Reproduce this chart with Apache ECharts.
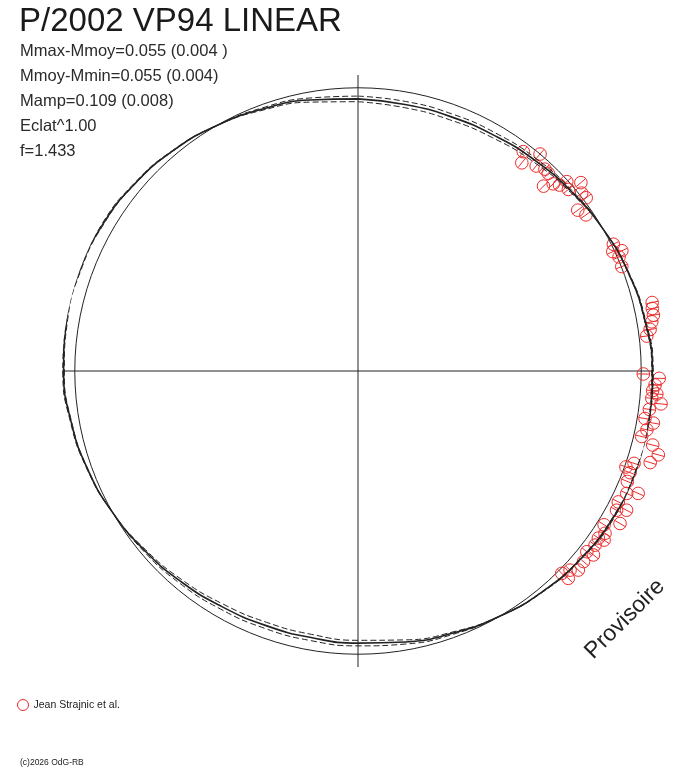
<!DOCTYPE html>
<html>
<head>
<meta charset="utf-8">
<title>P/2002 VP94 LINEAR</title>
<script src="https://cdn.jsdelivr.net/npm/echarts@6.0.0/dist/echarts.min.js"></script>
<style>
    html, body { margin: 0; padding: 0; background: #fff; }
    #chart { width: 688px; height: 768px; }
</style>
</head>
<body>
<div id="chart"></div>
<script>
// rotational phase as an angle (deg, clockwise from the top)
// and brightness Mmoy - m (mag), outward = brighter
var obsAngle = [37.0, 40.0, 38.2, 41.0, 42.8, 43.9, 45.1, 46.2, 47.3, 47.8, 49.2, 49.8, 51.5, 52.8, 53.8, 55.6,
    63.6, 64.9, 65.5, 66.4, 68.4,
    76.9, 78.0, 79.3, 80.5, 81.9, 83.1,
    90.6, 91.4, 92.7, 93.8, 94.4, 95.3, 96.2, 97.5, 99.4, 100.0, 101.5, 103.0, 104.1, 105.6, 107.4, 108.5, 109.7, 110.5,
    112.3, 113.6, 114.5, 116.7, 117.4, 118.3, 120.2, 122.0, 123.3, 124.8, 124.5, 126.3, 128.3, 128.0, 130.2, 132.1, 133.2, 134.8, 134.6];
var obsDelta = [-0.037, 0.000, -0.079, -0.050, -0.035, -0.038, -0.092, -0.055, -0.039, -0.006, -0.023, 0.037, 0.011, 0.014, -0.047, -0.030,
    0.008, -0.008, 0.029, 0.007, 0.002,
    0.081, 0.076, 0.075, 0.063, 0.051, 0.033,
    0.009, 0.078, 0.061, 0.052, 0.071, 0.051, 0.093, 0.046, 0.033, 0.072, 0.050, 0.034, 0.089, 0.123, 0.099, 0.034, 0.006, 0.031,
    0.034, 0.097, 0.052, 0.035, 0.083, 0.045, 0.086, 0.030, 0.053, 0.041, 0.066, 0.047, 0.036, 0.067, 0.052, 0.059, 0.033, 0.017, 0.052];
var obsErr = 0.026;

// fitted light curves (mag), sampled every 10 deg
var fitAngle = [0, 10, 20, 30, 40, 50, 60, 70, 80, 90, 100, 110, 120, 130, 140, 150, 160, 170, 180,
    190, 200, 210, 220, 230, 240, 250, 260, 270, 280, 290, 300, 310, 320, 330, 340, 350, 360];
var fitMain = [-0.048, -0.054, -0.054, -0.048, -0.035, -0.019, 0.000, 0.019, 0.035, 0.048, 0.054, 0.054, 0.048, 0.035, 0.019, 0.000, -0.019, -0.035, -0.048,
    -0.054, -0.054, -0.048, -0.035, -0.019, 0.000, 0.019, 0.035, 0.048, 0.054, 0.054, 0.048, 0.035, 0.019, 0.000, -0.019, -0.035, -0.048];
var fitHigh = [-0.060, -0.068, -0.068, -0.060, -0.044, -0.024, 0.000, 0.021, 0.038, 0.052, 0.058, 0.058, 0.052, 0.038, 0.021, 0.000, -0.024, -0.044, -0.060,
    -0.068, -0.068, -0.060, -0.044, -0.024, 0.000, 0.021, 0.038, 0.052, 0.058, 0.058, 0.052, 0.038, 0.021, 0.000, -0.024, -0.044, -0.060];
var fitLow = [-0.036, -0.041, -0.041, -0.036, -0.026, -0.014, 0.000, 0.018, 0.033, 0.045, 0.050, 0.050, 0.045, 0.033, 0.018, 0.000, -0.014, -0.026, -0.036,
    -0.041, -0.041, -0.036, -0.026, -0.014, 0.000, 0.018, 0.033, 0.045, 0.050, 0.050, 0.045, 0.033, 0.018, 0.000, -0.014, -0.026, -0.036];

var titleText = 'P/2002 VP94 LINEAR';
var statLines = ['Mmax-Mmoy=0.055 (0.004 )', 'Mmoy-Mmin=0.055 (0.004)', 'Mamp=0.109 (0.008)', 'Eclat^1.00', 'f=1.433'];
var observerName = 'Jean Strajnic et al.';

var RED = '#ee2b2b';
var INK = '#222';
var FONT = '"Liberation Sans", Arial, sans-serif';

var chart = echarts.init(document.getElementById('chart'));

function fitSeries(values, width, dash) {
    return {
        type: 'line',
        coordinateSystem: 'polar',
        smooth: true,
        symbol: 'none',
        clip: false,
        silent: true,
        data: fitAngle.map(function (a, i) { return [values[i], a]; }),
        lineStyle: { color: INK, width: width, type: dash }
    };
}

var graphics = [{
    type: 'text', x: 19, y: 22,
    style: { text: titleText, fontSize: 33, fontFamily: FONT, fill: '#1a1a1a', verticalAlign: 'middle' }
}];
statLines.forEach(function (s, i) {
    graphics.push({
        type: 'text', x: 20, y: 51 + 25 * i,
        style: { text: s, fontSize: 16.5, fontFamily: FONT, fill: '#2a2a2a', verticalAlign: 'middle' }
    });
});
graphics.push({
    type: 'text', x: 20, y: 763,
    style: { text: '(c)2026 OdG-RB', fontSize: 8.5, fontFamily: FONT, fill: INK, verticalAlign: 'middle' }
});
graphics.push({
    type: 'text', x: 625, y: 619, rotation: 45 * Math.PI / 180,
    style: { text: 'Provisoire', fontSize: 23, fontFamily: FONT, fill: INK, align: 'center', verticalAlign: 'middle' }
});

var option = {
    animation: false,
    backgroundColor: '#fff',
    polar: { center: [358, 371], radius: 296 },
    angleAxis: {
        type: 'value', min: 0, max: 360, interval: 90, startAngle: 90, clockwise: true,
        axisLine: { show: false }, axisTick: { show: false }, axisLabel: { show: false },
        splitLine: { show: true, lineStyle: { color: INK, width: 1 } }
    },
    radiusAxis: {
        type: 'value', min: -1.22, max: 0.055, interval: 1.22,
        axisLine: { show: false }, axisTick: { show: false }, axisLabel: { show: false },
        // only the Mmoy circle is drawn
        splitLine: { show: true, lineStyle: { color: ['rgba(0,0,0,0)', INK, 'rgba(0,0,0,0)'], width: 1 } }
    },
    legend: {
        left: 17, top: 699, padding: 0, itemWidth: 11, itemHeight: 11, selectedMode: false,
        data: [{ name: observerName, icon: 'circle' }],
        itemStyle: { color: '#fff', borderColor: RED, borderWidth: 1 },
        textStyle: { fontSize: 10.5, fontFamily: FONT, color: INK }
    },
    series: [
        fitSeries(fitHigh, 1, [6, 3]),
        fitSeries(fitLow, 1, [6, 3]),
        fitSeries(fitMain, 1.6, 'solid'),
        {
            name: observerName,
            type: 'custom',
            coordinateSystem: 'polar',
            itemStyle: { color: RED },
            data: obsAngle.map(function (a, i) { return [obsDelta[i], a]; }),
            renderItem: function (params, api) {
                var v = api.value(0), a = api.value(1);
                var c = api.coord([v, a]);
                var p1 = api.coord([v - obsErr, a]);
                var p2 = api.coord([v + obsErr, a]);
                return {
                    type: 'group',
                    children: [
                        { type: 'circle', shape: { cx: c[0], cy: c[1], r: 6.3 }, style: { fill: 'none', stroke: RED, lineWidth: 1 } },
                        { type: 'line', shape: { x1: p1[0], y1: p1[1], x2: p2[0], y2: p2[1] }, style: { stroke: RED, lineWidth: 1 } }
                    ]
                };
            }
        }
    ],
    graphic: graphics
};

chart.setOption(option);
</script>
</body>
</html>
